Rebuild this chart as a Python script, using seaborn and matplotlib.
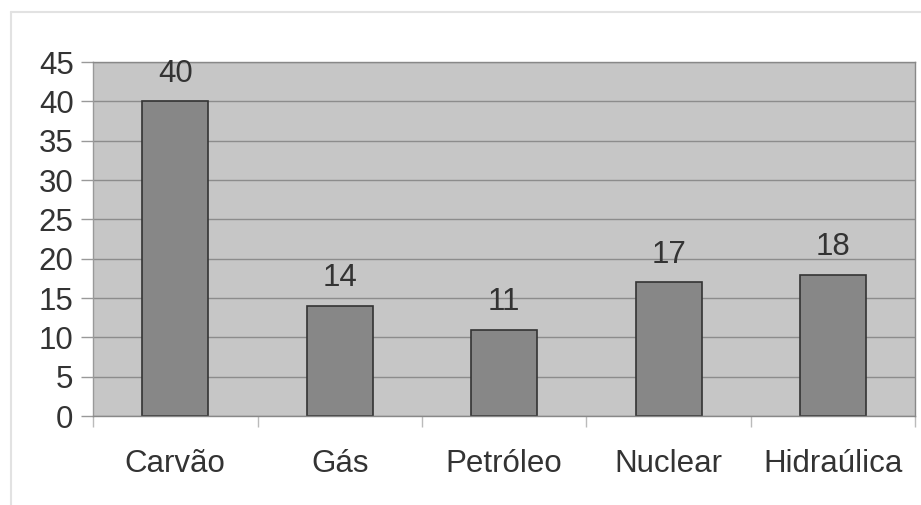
import matplotlib
matplotlib.use('Agg')
import matplotlib.pyplot as plt
from matplotlib.lines import Line2D
from matplotlib.ticker import FixedLocator
import seaborn as sns
import pandas as pd

categories = ['Carvão', 'Gás', 'Petróleo', 'Nuclear', 'Hidraúlica']
values = [40, 14, 11, 17, 18]
y_ticks = [0, 5, 10, 15, 20, 25, 30, 35, 40, 45]

sns.set_style('white')
plt.rcParams['font.family'] = ['Liberation Sans', 'DejaVu Sans']

df = pd.DataFrame({'fonte': categories, 'valor': values})

fig = plt.figure(figsize=(9.21, 5.05), dpi=100)
ax = fig.add_axes([0.101, 0.176, 0.893, 0.701])
ax.set_facecolor('#c6c6c6')

sns.barplot(data=df, x='fonte', y='valor', color='#878787', edgecolor='#333333',
            linewidth=1.2, width=0.4, saturation=1, ax=ax)

ax.set_ylim(0, 45)
ax.set_xlim(-0.5, len(categories) - 0.5)
ax.set_yticks(y_ticks)
ax.yaxis.grid(True, color='#8c8c8c', linewidth=1)
ax.set_axisbelow(True)
ax.set_xlabel('')
ax.set_ylabel('')

for s in ax.spines.values():
    s.set_color('#888888')
    s.set_linewidth(1)
ax.spines['left'].set_color('#999999')

fs = 22.5
ax.tick_params(axis='y', labelsize=fs, colors='#999999', labelcolor='#333333',
               length=9, width=1, left=True, pad=5)
ax.tick_params(axis='x', which='major', labelsize=fs, labelcolor='#333333',
               length=0, pad=24)
ax.xaxis.set_minor_locator(FixedLocator([i - 0.5 for i in range(len(categories) + 1)]))
ax.tick_params(axis='x', which='minor', bottom=True, length=8, width=1, color='#bbbbbb')

ax.bar_label(ax.containers[0], labels=[str(v) for v in values], fontsize=fs,
             color='#333333', padding=9)

# light frame of the original chart
fig.add_artist(Line2D([11 / 921, 1], [1 - 12 / 505, 1 - 12 / 505], color='#e2e2e2', lw=1.5))
fig.add_artist(Line2D([11 / 921, 11 / 921], [0, 1 - 12 / 505], color='#e2e2e2', lw=1.5))

fig.savefig('out.png', dpi=100)
